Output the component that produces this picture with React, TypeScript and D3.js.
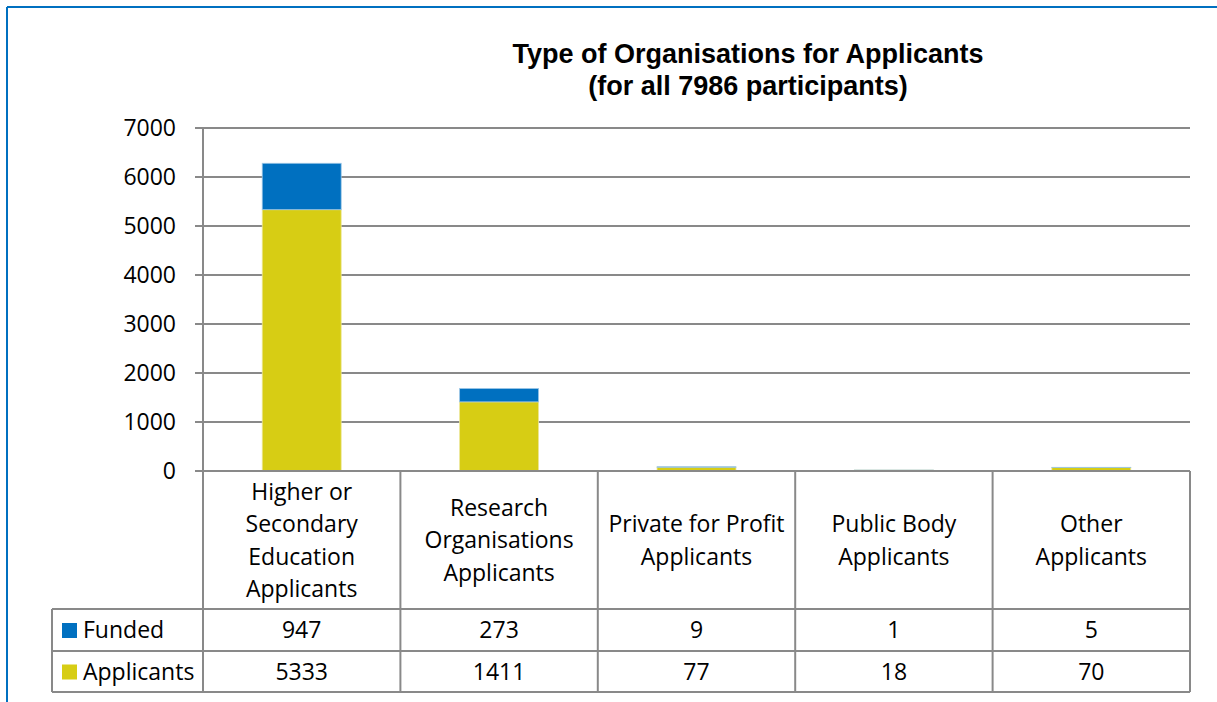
import React from "react";
import * as d3 from "d3";

const categories = [
  "Higher or Secondary Education Applicants",
  "Research Organisations Applicants",
  "Private for Profit Applicants",
  "Public Body Applicants",
  "Other Applicants",
];
const categoryLines = [
  ["Higher or", "Secondary", "Education", "Applicants"],
  ["Research", "Organisations", "Applicants"],
  ["Private for Profit", "Applicants"],
  ["Public Body", "Applicants"],
  ["Other", "Applicants"],
];
const applicants = [5333, 1411, 77, 18, 70];
const funded = [947, 273, 9, 1, 5];
const yTicks = [0, 1000, 2000, 3000, 4000, 5000, 6000, 7000];
const seriesNames = ["Funded", "Applicants"];
const titleLines = ["Type of Organisations for Applicants", "(for all 7986 participants)"];

const W = 1217;
const H = 702;
const left = 203;
const right = 1190;
const top = 128;
const zeroY = 471;
const headerBottom = 609;
const row1Bottom = 651;
const row2Bottom = 692;
const legendLeft = 52;

const BLUE = "#0070C0";
const YELLOW = "#D7CD14";
const GRID = "#898989";
const FONT = "'Open Sans', sans-serif";
const FS = 23;

export default function App() {
  const x = d3.scaleBand<string>().domain(categories).range([left, right]).padding(0);
  const y = d3.scaleLinear().domain([0, 7000]).range([zeroY, top]);
  const bw = x.bandwidth() * 0.4;

  const stackData = categories.map((c, i) => ({ cat: c, Applicants: applicants[i], Funded: funded[i] }));
  const stack = d3.stack<any>().keys(["Applicants", "Funded"])(stackData);
  const colors: Record<string, string> = { Applicants: YELLOW, Funded: BLUE };

  const rows = [
    { name: seriesNames[0], vals: funded, color: BLUE, y0: headerBottom, y1: row1Bottom },
    { name: seriesNames[1], vals: applicants, color: YELLOW, y0: row1Bottom, y1: row2Bottom },
  ];

  const lineH = 32.5;

  return (
    <svg width={W} height={H} style={{ position: "absolute", left: 0, top: 0, background: "#fff" }}>
      <rect x={0} y={0} width={W} height={H} fill="#fff" />
      {/* frame */}
      <line x1={7} y1={7} x2={W} y2={7} stroke={BLUE} strokeWidth={2} />
      <line x1={7} y1={7} x2={7} y2={H} stroke={BLUE} strokeWidth={2} />

      {/* title */}
      <g fontFamily="'Liberation Sans', Arial, sans-serif" fontWeight="bold" fontSize={27} textAnchor="middle" fill="#000">
        <text x={748} y={63}>{titleLines[0]}</text>
        <text x={748} y={95}>{titleLines[1]}</text>
      </g>

      {/* gridlines and y ticks */}
      {yTicks.map((t) => (
        <g key={t}>
          <line x1={left - 8} x2={right} y1={y(t)} y2={y(t)} stroke={GRID} strokeWidth={2} />
          <text x={176} y={y(t)} dy="0.36em" textAnchor="end" fontFamily={FONT} fontSize={FS} fill="#000">
            {t}
          </text>
        </g>
      ))}

      {/* bars */}
      {stack.map((s) => (
        <g key={s.key}>
          {s.map((d, i) => (
            <rect
              key={i}
              x={(x(categories[i]) as number) + (x.bandwidth() - bw) / 2}
              y={y(d[1])}
              width={bw}
              height={Math.max(0, y(d[0]) - y(d[1]))}
              fill={colors[s.key]}
              stroke={s.key === "Funded" ? "#9cc6e6" : "#ece79a"}
              strokeWidth={0.8}
            />
          ))}
        </g>
      ))}

      {/* table lines */}
      <line x1={left} x2={left} y1={top} y2={row2Bottom} stroke={GRID} strokeWidth={2} />
      {categories.map((c) => (
        <line key={c} x1={(x(c) as number) + x.bandwidth()} x2={(x(c) as number) + x.bandwidth()} y1={zeroY} y2={row2Bottom} stroke={GRID} strokeWidth={2} />
      ))}
      <line x1={legendLeft} x2={legendLeft} y1={headerBottom} y2={row2Bottom} stroke={GRID} strokeWidth={2} />
      {[headerBottom, row1Bottom, row2Bottom].map((yy) => (
        <line key={yy} x1={legendLeft} x2={right} y1={yy} y2={yy} stroke={GRID} strokeWidth={2} />
      ))}
      <line x1={left - 8} x2={right} y1={zeroY} y2={zeroY} stroke={GRID} strokeWidth={2} />

      {/* header labels */}
      {categories.map((c, i) => {
        const lines = categoryLines[i];
        const cx = (x(c) as number) + x.bandwidth() / 2;
        const mid = (zeroY + headerBottom) / 2;
        const start = mid - ((lines.length - 1) * lineH) / 2;
        return (
          <g key={c} fontFamily={FONT} fontSize={FS} textAnchor="middle" fill="#000">
            {lines.map((ln, j) => (
              <text key={j} x={cx} y={start + j * lineH} dy="0.36em">
                {ln}
              </text>
            ))}
          </g>
        );
      })}

      {/* data rows */}
      {rows.map((r) => {
        const cy = (r.y0 + r.y1) / 2;
        return (
          <g key={r.name} fontFamily={FONT} fontSize={FS} fill="#000">
            <rect x={62} y={cy - 7} width={15} height={15} fill={r.color} />
            <text x={83} y={cy} dy="0.36em">{r.name}</text>
            {categories.map((c, i) => (
              <text key={c} x={(x(c) as number) + x.bandwidth() / 2} y={cy} dy="0.36em" textAnchor="middle">
                {r.vals[i]}
              </text>
            ))}
          </g>
        );
      })}
    </svg>
  );
}
